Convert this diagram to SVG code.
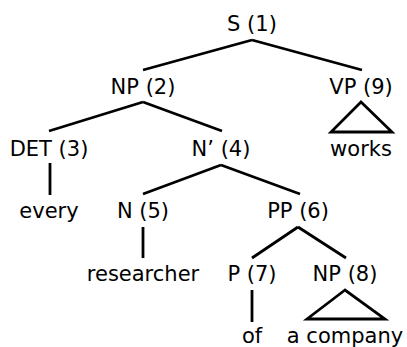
<svg xmlns="http://www.w3.org/2000/svg" width="407" height="347" viewBox="0 0 407 347">
<style>
text{font-family:"DejaVu Sans",sans-serif;font-size:21px;fill:#000;text-anchor:middle}
.e{stroke:#000;stroke-width:2.8;fill:none;stroke-linecap:butt}
</style>
<rect width="407" height="347" fill="#fff"/>
<g id="connectors">
<path class="e" d="M252,40 L143,70 M252,40 L362,70"/>
<path class="e" d="M143,102 L49,131 M143,102 L222,131"/>
<path class="e" d="M361,102 L331,132 L392,132 Z"/>
<path class="e" d="M50,163 L50,195"/>
<path class="e" d="M221,165 L143,194 M221,165 L300,194"/>
<path class="e" d="M143,227 L143,258"/>
<path class="e" d="M298,227 L252,258 M298,227 L346,258"/>
<path class="e" d="M252,290 L252,322"/>
<path class="e" d="M345,290 L307,319 L385,319 Z"/>
</g>
<g id="n1"><text x="252" y="31">S (1)</text></g>
<g id="n2"><text x="143" y="94">NP (2)</text></g>
<g id="n9"><text x="361" y="94">VP (9)</text></g>
<g id="n9w"><text x="361" y="156">works</text></g>
<g id="n3"><text x="49" y="156">DET (3)</text></g>
<g id="n4"><text x="221" y="156">N’ (4)</text></g>
<g id="n3w"><text x="49" y="218">every</text></g>
<g id="n5"><text x="143" y="218">N (5)</text></g>
<g id="n6"><text x="298" y="218">PP (6)</text></g>
<g id="n5w"><text x="143" y="281">researcher</text></g>
<g id="n7"><text x="252" y="281">P (7)</text></g>
<g id="n8"><text x="345" y="281">NP (8)</text></g>
<g id="n7w"><text x="252" y="343">of</text></g>
<g id="n8w"><text x="345" y="343">a company</text></g>
</svg>
